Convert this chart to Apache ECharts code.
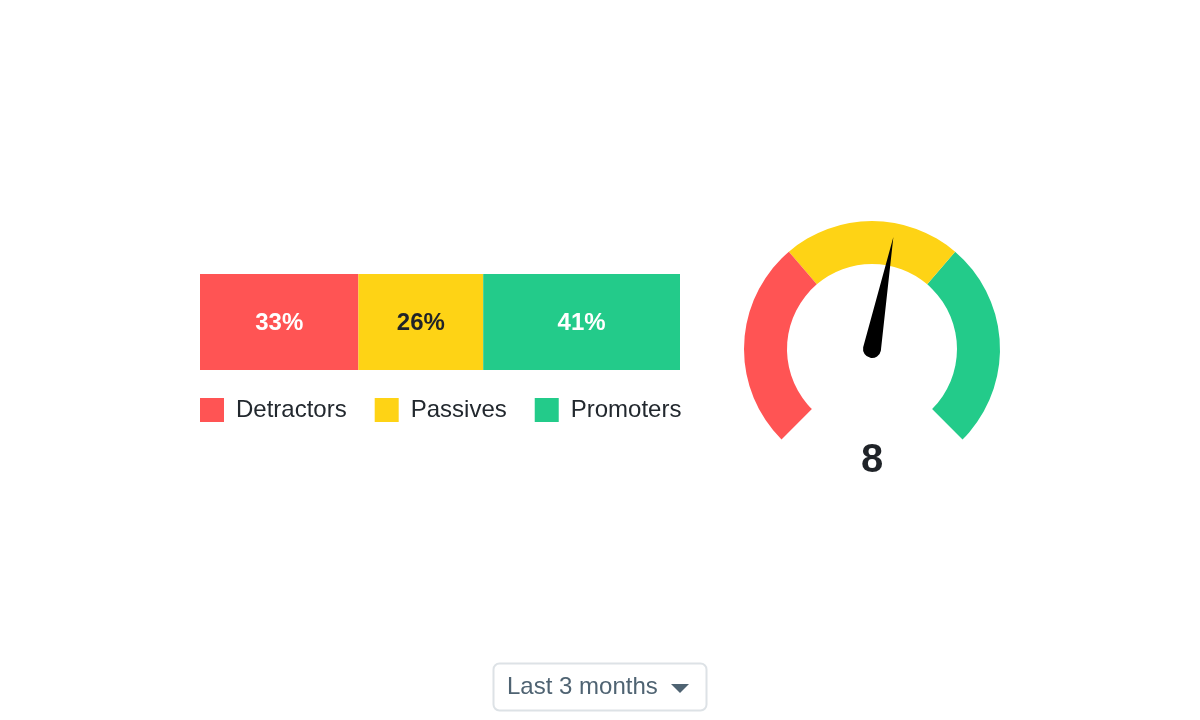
<!DOCTYPE html>
<html>
<head>
<meta charset="utf-8">
<script src="https://cdn.jsdelivr.net/npm/echarts@6/dist/echarts.min.js"></script>
<style>
  html, body { margin: 0; padding: 0; background: #ffffff; }
  #chart { width: 1200px; height: 720px; }
</style>
</head>
<body>
<div id="chart"></div>
<script>
// ---- data ----
const categories = ['Detractors', 'Passives', 'Promoters'];
const shares = [33, 26, 41];           // percent of respondents
const npsScore = 8;                     // gauge value
const gaugeMin = -100;
const gaugeMax = 100;
const bandUpperBounds = [-30, 30, 100]; // gauge colour band limits
const periodLabel = 'Last 3 months';

// ---- style ----
const colors = ['#FF5454', '#FED315', '#23CB8A'];
const labelColors = ['#ffffff', '#1f2328', '#ffffff'];
const FONT = 'Liberation Sans, Arial, sans-serif';

const chart = echarts.init(document.getElementById('chart'));

const barSeries = categories.map((name, i) => ({
  name: name,
  type: 'bar',
  stack: 'nps',
  barWidth: 96,
  data: [shares[i]],
  itemStyle: { color: colors[i] },
  label: {
    show: true,
    position: 'inside',
    offset: [0, 1],
    formatter: '{c}%',
    fontFamily: FONT,
    fontSize: 24,
    fontWeight: 'bold',
    color: labelColors[i]
  },
  emphasis: { disabled: true }
}));

const bandStops = bandUpperBounds.map((v, i) => [
  (v - gaugeMin) / (gaugeMax - gaugeMin), colors[i]
]);

const option = {
  backgroundColor: '#ffffff',
  animation: false,
  textStyle: { fontFamily: FONT },
  legend: {
    left: 200,
    top: 398,
    padding: 0,
    itemWidth: 24,
    itemHeight: 24,
    itemGap: 28,
    icon: 'rect',
    selectedMode: false,
    data: categories,
    textStyle: {
      fontFamily: FONT,
      fontSize: 24,
      color: '#22282e',
      padding: [0, 0, 0, 7]
    }
  },
  grid: { left: 200, top: 274, width: 480, height: 96 },
  xAxis: { type: 'value', min: 0, max: 100, show: false },
  yAxis: { type: 'category', data: ['NPS'], show: false },
  series: barSeries.concat([{
    type: 'gauge',
    center: [872, 349],
    radius: 128,
    min: gaugeMin,
    max: gaugeMax,
    startAngle: 225,
    endAngle: -45,
    axisLine: { lineStyle: { width: 43, color: bandStops } },
    axisTick: { show: false },
    splitLine: { show: false },
    axisLabel: { show: false },
    pointer: {
      icon: 'path://M0,0 L9,114 A9,9 0 0 1 -9,114 Z',
      width: 18,
      length: 123,
      offsetCenter: [0, 9],
      itemStyle: { color: '#000000' }
    },
    anchor: { show: false },
    title: { show: false },
    detail: {
      offsetCenter: [0, 112],
      fontFamily: FONT,
      fontSize: 40,
      fontWeight: 'bold',
      color: '#1f2328',
      formatter: '{value}'
    },
    data: [{ value: npsScore }]
  }]),
  graphic: [
    {
      type: 'rect',
      shape: { x: 493.5, y: 663.5, width: 213, height: 47, r: 6 },
      style: { fill: '#ffffff', stroke: '#dde2e6', lineWidth: 2 }
    },
    {
      type: 'text',
      x: 507,
      y: 687,
      style: {
        text: periodLabel,
        fontFamily: FONT,
        fontSize: 24,
        fill: '#4f6372',
        verticalAlign: 'middle'
      }
    },
    {
      type: 'polygon',
      shape: { points: [[671, 684], [689, 684], [680, 693]] },
      style: { fill: '#4f6372' }
    }
  ]
};

chart.setOption(option);
</script>
</body>
</html>
